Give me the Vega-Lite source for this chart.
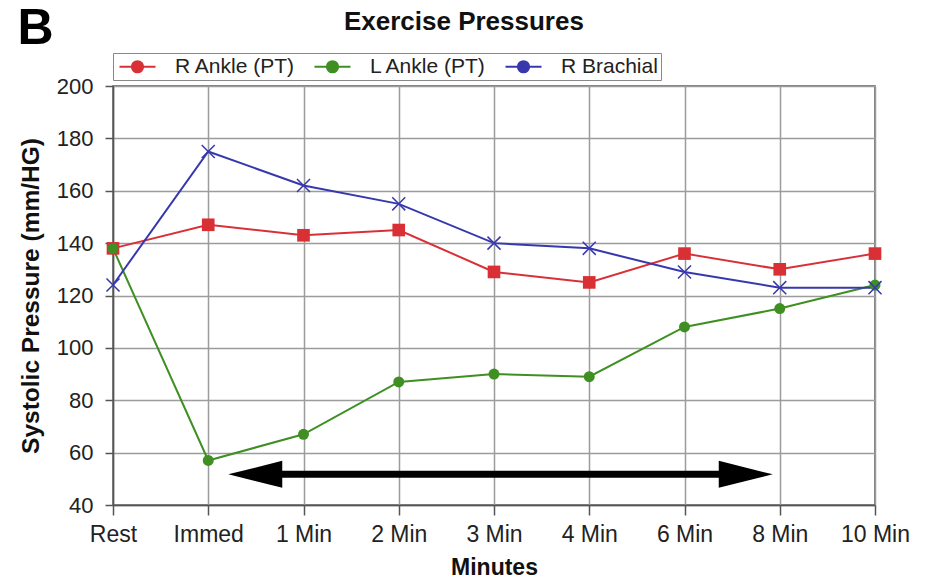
{
  "$schema": "https://vega.github.io/schema/vega-lite/v6.json",
  "padding": {"left": 17, "top": 4, "right": 16, "bottom": 2},
  "background": "white",
  "title": {"text": "B", "anchor": "start", "fontSize": 50, "fontWeight": "bold", "font": "Liberation Sans", "color": "#000", "offset": -46},
  "config": {
    "font": "Liberation Sans",
    "view": {"stroke": "#555", "strokeWidth": 1.5},
    "axis": {"labelColor": "#222", "titleColor": "#111", "domainColor": "#555", "tickColor": "#555", "gridColor": "#9c9c9c", "gridWidth": 1.5, "domainWidth": 1.5, "tickWidth": 1.5},
    "title": {"font": "Liberation Sans", "color": "#111"}
  },
  "datasets": {
    "pressures": [
      {"time": "Rest", "series": "R Ankle (PT)", "pressure": 138},
      {"time": "Immed", "series": "R Ankle (PT)", "pressure": 147},
      {"time": "1 Min", "series": "R Ankle (PT)", "pressure": 143},
      {"time": "2 Min", "series": "R Ankle (PT)", "pressure": 145},
      {"time": "3 Min", "series": "R Ankle (PT)", "pressure": 129},
      {"time": "4 Min", "series": "R Ankle (PT)", "pressure": 125},
      {"time": "6 Min", "series": "R Ankle (PT)", "pressure": 136},
      {"time": "8 Min", "series": "R Ankle (PT)", "pressure": 130},
      {"time": "10 Min", "series": "R Ankle (PT)", "pressure": 136},
      {"time": "Rest", "series": "L Ankle (PT)", "pressure": 138},
      {"time": "Immed", "series": "L Ankle (PT)", "pressure": 57},
      {"time": "1 Min", "series": "L Ankle (PT)", "pressure": 67},
      {"time": "2 Min", "series": "L Ankle (PT)", "pressure": 87},
      {"time": "3 Min", "series": "L Ankle (PT)", "pressure": 90},
      {"time": "4 Min", "series": "L Ankle (PT)", "pressure": 89},
      {"time": "6 Min", "series": "L Ankle (PT)", "pressure": 108},
      {"time": "8 Min", "series": "L Ankle (PT)", "pressure": 115},
      {"time": "10 Min", "series": "L Ankle (PT)", "pressure": 124},
      {"time": "Rest", "series": "R Brachial", "pressure": 124},
      {"time": "Immed", "series": "R Brachial", "pressure": 175},
      {"time": "1 Min", "series": "R Brachial", "pressure": 162},
      {"time": "2 Min", "series": "R Brachial", "pressure": 155},
      {"time": "3 Min", "series": "R Brachial", "pressure": 140},
      {"time": "4 Min", "series": "R Brachial", "pressure": 138},
      {"time": "6 Min", "series": "R Brachial", "pressure": 129},
      {"time": "8 Min", "series": "R Brachial", "pressure": 123},
      {"time": "10 Min", "series": "R Brachial", "pressure": 123}
    ],
    "arrow": [
      {"time": "Immed", "time2": "8 Min", "level": 51.7}
    ]
  },
  "vconcat": [
    {
      "width": 762,
      "height": 419,
      "title": {"text": "Exercise Pressures", "fontSize": 26, "fontWeight": "bold", "frame": "bounds", "anchor": "middle", "offset": 40},
      "layer": [
        {
          "data": {"name": "pressures"},
          "mark": {"type": "line", "strokeWidth": 2},
          "encoding": {
            "x": {
              "field": "time", "type": "nominal", "title": "Minutes",
              "sort": ["Rest", "Immed", "1 Min", "2 Min", "3 Min", "4 Min", "6 Min", "8 Min", "10 Min"],
              "scale": {"type": "point", "padding": 0, "domain": ["Rest", "Immed", "1 Min", "2 Min", "3 Min", "4 Min", "6 Min", "8 Min", "10 Min"]},
              "axis": {"labelAngle": 0, "labelFontSize": 23, "titleFontSize": 23, "titleFontWeight": "bold", "titlePadding": 10, "tickSize": 10, "labelPadding": 8, "grid": true, "labelFlush": false}
            },
            "y": {
              "field": "pressure", "type": "quantitative", "title": "Systolic Pressure (mm/HG)",
              "scale": {"domain": [40, 200], "nice": false, "zero": false},
              "axis": {
                "values": [40,45,50,55,60,65,70,75,80,85,90,95,100,105,110,115,120,125,130,135,140,145,150,155,160,165,170,175,180,185,190,195,200],
                "labelExpr": "datum.value % 20 === 0 ? datum.label : ''",
                "labelOverlap": false,
                "labelFontSize": 22, "titleFontSize": 24.5, "titleFontWeight": "bold", "titlePadding": 13, "labelPadding": 12,
                "grid": true,
                "gridOpacity": {"condition": {"test": "datum.value % 20 === 0", "value": 1}, "value": 0},
                "tickSize": {"condition": {"test": "datum.value % 20 === 0", "value": 8}, "value": 4}
              }
            },
            "color": {
              "field": "series", "type": "nominal",
              "scale": {"domain": ["R Ankle (PT)", "L Ankle (PT)", "R Brachial"], "range": ["#d93036", "#3f8f22", "#3838ae"]},
              "legend": {
                "title": null, "orient": "none", "legendX": 0, "legendY": -33, "direction": "horizontal",
                "strokeColor": "#888", "fillColor": "white", "padding": 3,
                "labelFontSize": 21, "labelColor": "#222",
                "symbolType": "M-2.25,0H2.25M-0.7,0A0.7,0.7,0,1,0,0.7,0A0.7,0.7,0,1,0,-0.7,0Z",
                "symbolSize": 256, "symbolOffset": 11, "labelOffset": 27, "columnPadding": 14,
                "symbolStrokeWidth": 2
              }
            }
          }
        },
        {
          "data": {"name": "pressures"},
          "transform": [{"filter": "datum.series === 'R Ankle (PT)'"}],
          "mark": {"type": "point", "filled": true, "shape": "square", "size": 160, "opacity": 1},
          "encoding": {
            "x": {"field": "time", "type": "nominal", "title": "Minutes", "sort": ["Rest", "Immed", "1 Min", "2 Min", "3 Min", "4 Min", "6 Min", "8 Min", "10 Min"]},
            "y": {"field": "pressure", "type": "quantitative", "title": "Systolic Pressure (mm/HG)"},
            "color": {"field": "series", "type": "nominal"}
          }
        },
        {
          "data": {"name": "pressures"},
          "transform": [{"filter": "datum.series === 'L Ankle (PT)'"}],
          "mark": {"type": "point", "filled": true, "shape": "circle", "size": 120, "opacity": 1},
          "encoding": {
            "x": {"field": "time", "type": "nominal", "title": "Minutes", "sort": ["Rest", "Immed", "1 Min", "2 Min", "3 Min", "4 Min", "6 Min", "8 Min", "10 Min"]},
            "y": {"field": "pressure", "type": "quantitative", "title": "Systolic Pressure (mm/HG)"},
            "color": {"field": "series", "type": "nominal"}
          }
        },
        {
          "data": {"name": "pressures"},
          "transform": [{"filter": "datum.series === 'R Brachial'"}],
          "mark": {"type": "point", "filled": false, "shape": "M-1,-1L1,1M-1,1L1,-1", "size": 170, "strokeWidth": 1.5, "opacity": 1},
          "encoding": {
            "x": {"field": "time", "type": "nominal", "title": "Minutes", "sort": ["Rest", "Immed", "1 Min", "2 Min", "3 Min", "4 Min", "6 Min", "8 Min", "10 Min"]},
            "y": {"field": "pressure", "type": "quantitative", "title": "Systolic Pressure (mm/HG)"},
            "color": {"field": "series", "type": "nominal"}
          }
        },
        {
          "data": {"name": "arrow"},
          "mark": {"type": "rule", "strokeWidth": 7, "color": "#000", "xOffset": 46, "x2Offset": -34},
          "encoding": {
            "x": {"field": "time", "type": "nominal", "title": "Minutes"},
            "x2": {"field": "time2"},
            "y": {"field": "level", "type": "quantitative", "title": "Systolic Pressure (mm/HG)"}
          }
        },
        {
          "data": {"name": "arrow"},
          "mark": {"type": "point", "filled": true, "color": "#000", "opacity": 1, "size": 2916, "shape": "M-1,0L1,-0.5L1,0.5Z", "xOffset": 47},
          "encoding": {
            "x": {"field": "time", "type": "nominal", "title": "Minutes"},
            "y": {"field": "level", "type": "quantitative", "title": "Systolic Pressure (mm/HG)"}
          }
        },
        {
          "data": {"name": "arrow"},
          "mark": {"type": "point", "filled": true, "color": "#000", "opacity": 1, "size": 2916, "shape": "M1,0L-1,-0.5L-1,0.5Z", "xOffset": -34},
          "encoding": {
            "x": {"field": "time2", "type": "nominal", "title": "Minutes"},
            "y": {"field": "level", "type": "quantitative", "title": "Systolic Pressure (mm/HG)"}
          }
        }
      ]
    }
  ]
}
